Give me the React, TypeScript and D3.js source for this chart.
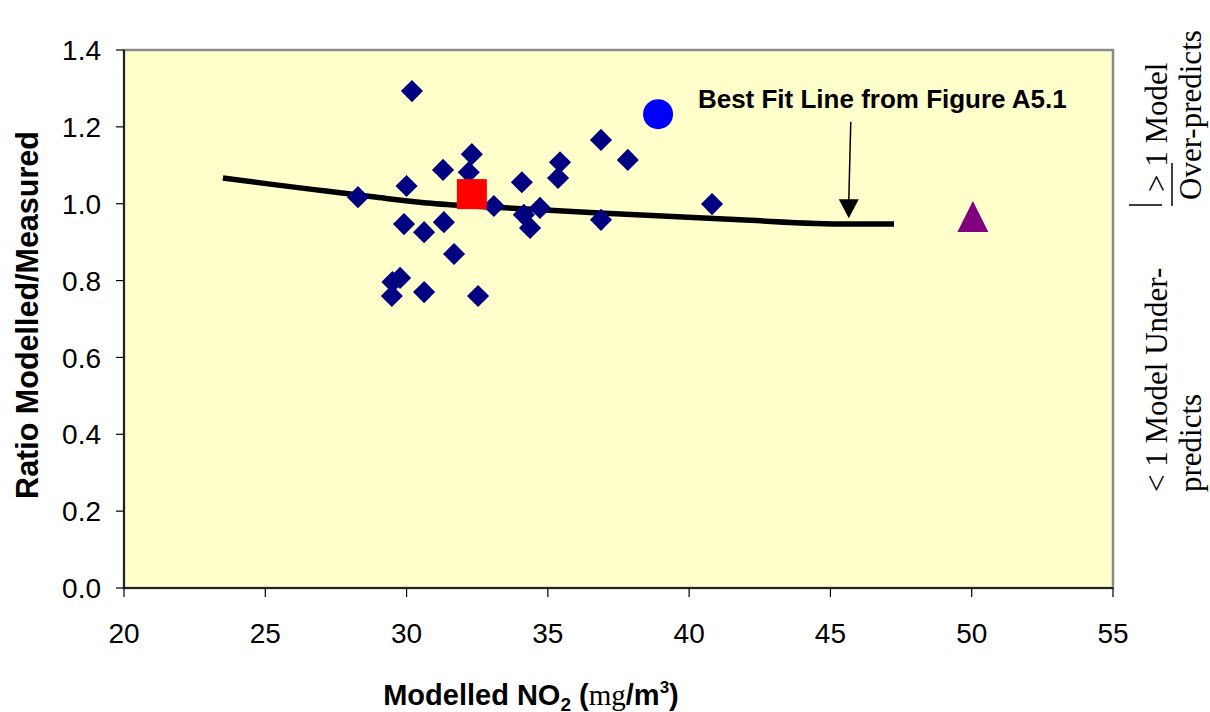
import React from "react";
import * as d3 from "d3";

const W = 1210;
const H = 712;

// Site diamonds: modelled NO2 vs ratio modelled/measured
const siteX = [28.28, 30.19, 30.0, 31.29, 32.2, 32.31, 29.91, 30.62, 31.32, 31.68, 29.5, 29.77, 29.48, 30.62, 32.53, 33.09, 34.08, 34.15, 34.37, 34.72, 35.36, 35.43, 36.88, 36.88, 37.83, 40.81];
const siteY = [1.017, 1.293, 1.046, 1.088, 1.082, 1.129, 0.947, 0.926, 0.952, 0.869, 0.796, 0.807, 0.76, 0.77, 0.76, 0.994, 1.056, 0.971, 0.937, 0.989, 1.067, 1.108, 1.166, 0.958, 1.114, 0.999];

// Special markers
const squareX = [32.31];
const squareY = [1.025];
const circleX = [38.9];
const circleY = [1.233];
const triangleX = [50.04];
const triangleY = [0.955];

// Best-fit line
const fitX = [23.5, 25.17, 26.8, 28.8, 30.72, 33.06, 36.84, 41.8, 45.58, 47.25];
const fitY = [1.067, 1.051, 1.036, 1.018, 1.002, 0.991, 0.976, 0.958, 0.947, 0.947];

const xTicks = [20, 25, 30, 35, 40, 45, 50, 55];
const yTicks = [0, 0.2, 0.4, 0.6, 0.8, 1.0, 1.2, 1.4];

const annotationText = "Best Fit Line from Figure A5.1";

export default function App() {
  const x = d3.scaleLinear().domain([20, 55]).range([124, 1113]);
  const y = d3.scaleLinear().domain([0, 1.4]).range([588, 50]);
  const line = d3
    .line<number>()
    .x((_, i) => x(fitX[i]))
    .y((d) => y(d))
    .curve(d3.curveMonotoneX);

  const sans = "Arial, 'Liberation Sans', Helvetica, sans-serif";
  const serif = "'Times New Roman', 'Liberation Serif', serif";
  const diamond = d3.symbol(d3.symbolSquare, 245)();
  const tri = "M0,-20 L15.5,11 L-15.5,11 Z";

  const arrowX1 = x(45.72);
  const arrowY1 = y(1.213);
  const arrowTipX = x(45.65);
  const arrowTipY = y(0.962);

  return (
    <div style={{ position: "fixed", left: 0, top: 0 }}>
      <svg width={W} height={H} style={{ display: "block", background: "#fff" }}>
        {/* plot background */}
        <rect x={124} y={50} width={1113 - 124} height={588 - 50} fill="#FFFFCC" stroke="#8a8a8a" strokeWidth={2.5} />
        {/* axes */}
        <line x1={124} y1={50} x2={124} y2={588} stroke="#000" strokeWidth={1.5} />
        <line x1={124} y1={588} x2={1113} y2={588} stroke="#000" strokeWidth={1.5} />
        {yTicks.map((t) => (
          <g key={"y" + t}>
            <line x1={116} x2={124} y1={y(t)} y2={y(t)} stroke="#000" strokeWidth={1.2} />
            <text x={101} y={y(t)} dy="0.36em" textAnchor="end" fontFamily={sans} fontSize={28} fill="#000">
              {t.toFixed(1)}
            </text>
          </g>
        ))}
        {xTicks.map((t) => (
          <g key={"x" + t}>
            <line x1={x(t)} x2={x(t)} y1={588} y2={597} stroke="#000" strokeWidth={1.2} />
            <text x={x(t)} y={643} textAnchor="middle" fontFamily={sans} fontSize={28} fill="#000">
              {t}
            </text>
          </g>
        ))}

        {/* best fit line */}
        <path d={line(fitY) || ""} fill="none" stroke="#000" strokeWidth={5.5} />

        {/* diamonds */}
        {siteX.map((v, i) => (
          <path key={"d" + i} d={diamond || ""} transform={`translate(${x(v)},${y(siteY[i])}) rotate(45)`} fill="#000080" />
        ))}

        {/* special markers */}
        {squareX.map((v, i) => (
          <rect key={"s" + i} x={x(v) - 15} y={y(squareY[i]) - 15} width={30} height={30} fill="#FF0000" />
        ))}
        {circleX.map((v, i) => (
          <circle key={"c" + i} cx={x(v)} cy={y(circleY[i])} r={15} fill="#0000FF" />
        ))}
        {triangleX.map((v, i) => (
          <path key={"t" + i} d={tri} transform={`translate(${x(v)},${y(triangleY[i])})`} fill="#800080" />
        ))}

        {/* annotation */}
        <text x={x(40.31)} y={y(1.249)} fontFamily={sans} fontWeight="bold" fontSize={26} fill="#000">
          {annotationText}
        </text>
        <line x1={arrowX1} y1={arrowY1} x2={arrowTipX} y2={arrowTipY - 18} stroke="#000" strokeWidth={1.5} />
        <path
          d={`M${arrowTipX},${arrowTipY} L${arrowTipX - 10},${arrowTipY - 19} L${arrowTipX + 10},${arrowTipY - 19} Z`}
          fill="#000"
        />

        {/* axis titles */}
        <text
          transform={`translate(38,315) rotate(-90)`}
          textAnchor="middle"
          fontFamily={sans}
          fontWeight="bold"
          fontSize={30.5}
          fill="#000"
        >
          Ratio Modelled/Measured
        </text>
        <text x={531} y={705} textAnchor="middle" fontFamily={sans} fontWeight="bold" fontSize={29} fill="#000">
          Modelled NO
          <tspan fontSize={19} dy={6}>2</tspan>
          <tspan dy={-6}> (</tspan>
          <tspan fontFamily={serif} fontWeight="normal">mg</tspan>
          <tspan>/m</tspan>
          <tspan fontSize={17} dy={-12}>3</tspan>
          <tspan dy={12}>)</tspan>
        </text>

        {/* right-side notes */}
        <g fontFamily={serif} fontSize={31} fill="#000">
          <text transform="translate(1167,192) rotate(-90)">&gt; 1 Model</text>
          <text transform="translate(1201,200) rotate(-90)">Over-predicts</text>
          <text transform="translate(1167,492) rotate(-90)">&lt; 1 Model Under-</text>
          <text transform="translate(1201,492) rotate(-90)">predicts</text>
        </g>
        <line x1={1129} x2={1162} y1={205} y2={205} stroke="#000" strokeWidth={1.5} />
        <line x1={1172} x2={1172} y1={163} y2={206} stroke="#000" strokeWidth={1.5} />
      </svg>
    </div>
  );
}
